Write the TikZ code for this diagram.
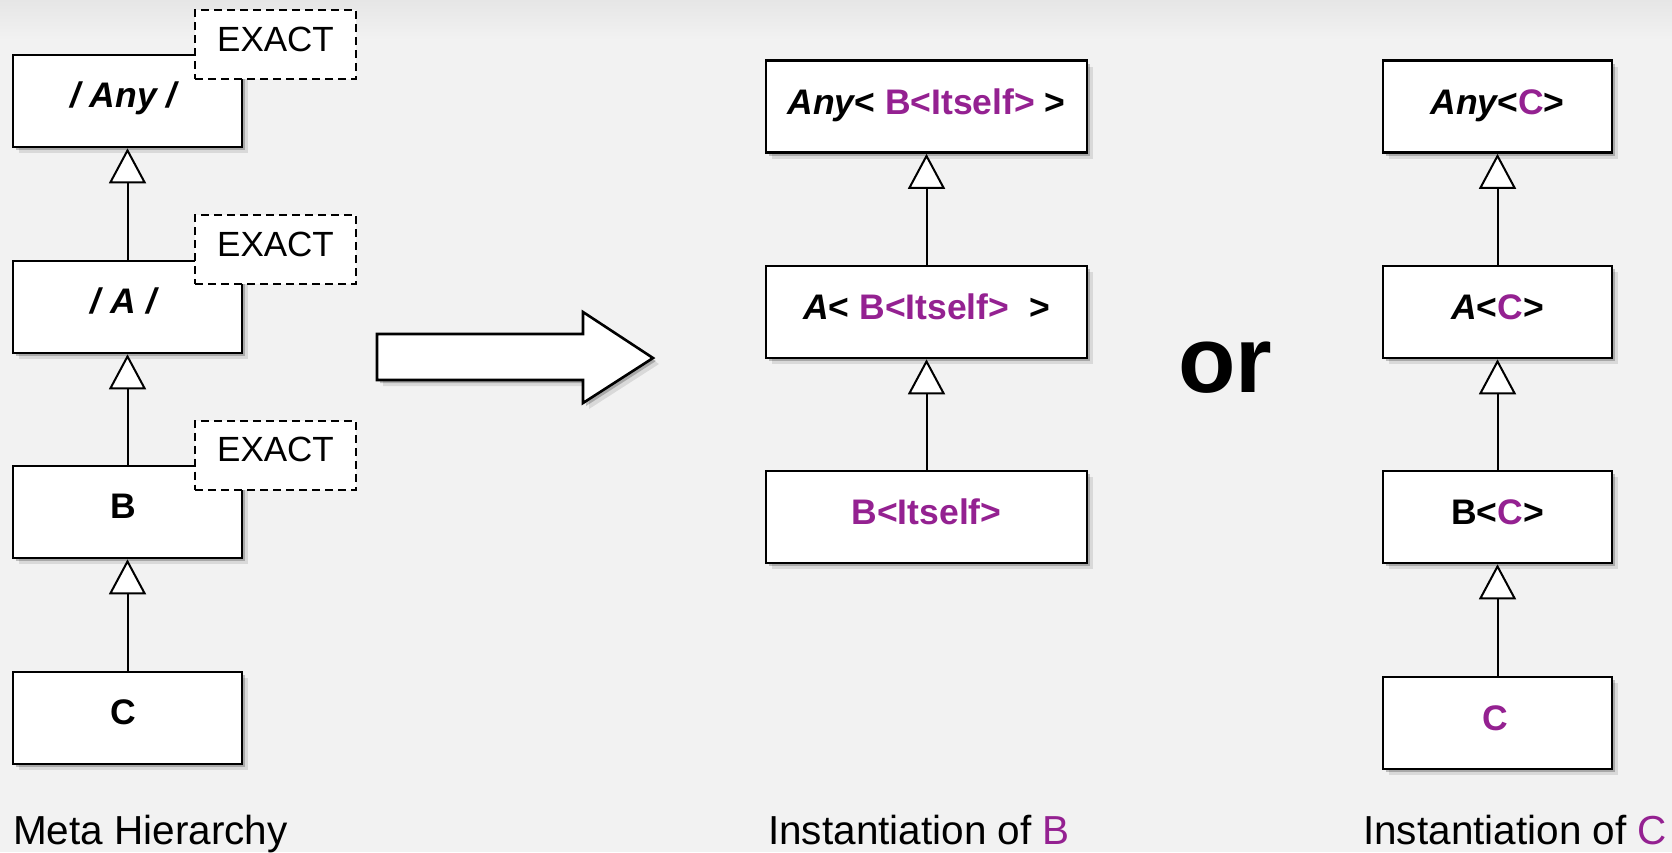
\documentclass[tikz,border=0pt]{standalone}
\usepackage{fontspec}
\setmainfont{Liberation Sans}
\usetikzlibrary{arrows.meta,shadows,calc}
\definecolor{bg}{HTML}{F2F2F2}
\definecolor{bgtop}{HTML}{E6E6E6}
\definecolor{purp}{RGB}{148,33,145}

\tikzset{
  soft shadow/.style={
    drop shadow={shadow xshift=3pt,shadow yshift=-3pt,opacity=.22,fill=black},
    drop shadow={shadow xshift=6pt,shadow yshift=-6pt,opacity=.10,fill=black}},
  classbox/.style={draw=black, fill=white, line width=2.6pt, minimum height=92pt,
    inner sep=0pt, soft shadow},
  narrow/.style={classbox, minimum width=229pt},
  wide/.style={classbox, minimum width=321pt},
  cname/.style={font=\fontsize{35.5}{40}\selectfont\bfseries, anchor=base, inner sep=0pt},
  exactbox/.style={draw=black, fill=white, dash pattern=on 8pt off 5pt, line width=2pt,
    minimum width=161pt, minimum height=69pt, inner sep=0pt},
  exacttext/.style={font=\fontsize{35}{40}\selectfont, anchor=base, inner sep=0pt},
  gen/.style={line width=2pt, -{Triangle[length=35pt,width=37pt,fill=white]}},
  caption/.style={font=\fontsize{40.5}{45}\selectfont, anchor=base west, inner sep=0pt},
}

\begin{document}
\begin{tikzpicture}[x=1pt,y=-1pt]
  % canvas
  \useasboundingbox (0,0) rectangle (1672,852);
  \fill[bg] (0,0) rectangle (1672,852);
  \shade[top color=bgtop, bottom color=bg] (0,0) rectangle (1672,40);

  % ---- meta hierarchy ----
  \node[narrow] (any) at (127.5,101) {};
  \node[narrow] (a)   at (127.5,307) {};
  \node[narrow] (b)   at (127.5,512) {};
  \node[narrow] (c)   at (127.5,718) {};
  \node[cname] (anyT) at ($(any.north)+(-4,54)$) {\itshape / Any /};
  \node[cname] (aT)   at ($(a.north)+(-4,54)$)   {\itshape / A /};
  \node[cname] (bT)   at ($(b.north)+(-4,54)$)   {B};
  \node[cname] (cT)   at ($(c.north)+(-4,54)$)   {C};

  \node[exactbox] (ex1) at (275.5,44.5) {};
  \node[exactbox] (ex2) at (275.5,249.5) {};
  \node[exactbox] (ex3) at (275.5,455) {};
  \node[exacttext] (ex1T) at ($(ex1.north)+(0,42)$) {EXACT};
  \node[exacttext] (ex2T) at ($(ex2.north)+(0,42)$) {EXACT};
  \node[exacttext] (ex3T) at ($(ex3.north)+(0,42)$) {EXACT};

  \draw[gen] (a.north) -- (any.south);
  \draw[gen] (b.north) -- (a.south);
  \draw[gen] (c.north) -- (b.south);

  % ---- transformation arrow ----
  \draw[line width=2.6pt, fill=white, line join=miter, soft shadow]
    (377,334) -- (583,334) -- (583,312) -- (653,358) -- (583,403)
    -- (583,380) -- (377,380) -- cycle;

  % ---- instantiation of B ----
  \node[wide] (mAny) at (926.5,106.5) {};
  \node[wide] (mA)   at (926.5,312) {};
  \node[wide] (mB)   at (926.5,517) {};
  \node[cname] (mAnyT) at ($(mAny.north)+(0,55)$)
    {{\itshape Any}<\ \textcolor{purp}{B<Itself>}\ >};
  \node[cname] (mAT) at ($(mA.north)+(0,55)$)
    {{\itshape A}<\ \textcolor{purp}{B<Itself>}\ \ >};
  \node[cname] (mBT) at ($(mB.north)+(0,55)$)
    {\textcolor{purp}{B<Itself>}};
  \draw[gen] (mA.north) -- (mAny.south);
  \draw[gen] (mB.north) -- (mA.south);

  \node[font=\fontsize{94}{100}\selectfont\bfseries, anchor=base, inner sep=0pt]
    (orT) at (1225.5,392) {or};

  % ---- instantiation of C ----
  \node[narrow] (rAny) at (1497.5,106.5) {};
  \node[narrow] (rA)   at (1497.5,312) {};
  \node[narrow] (rB)   at (1497.5,517) {};
  \node[narrow] (rC)   at (1497.5,723) {};
  \node[cname] (rAnyT) at ($(rAny.north)+(0,55)$) {{\itshape Any}<\textcolor{purp}{C}>};
  \node[cname] (rAT)   at ($(rA.north)+(0,55)$)   {{\itshape A}<\textcolor{purp}{C}>};
  \node[cname] (rBT)   at ($(rB.north)+(0,55)$)   {B<\textcolor{purp}{C}>};
  \node[cname] (rCT)   at ($(rC.north)+(-2,55)$)  {\textcolor{purp}{C}};
  \draw[gen] (rA.north) -- (rAny.south);
  \draw[gen] (rB.north) -- (rA.south);
  \draw[gen] (rC.north) -- (rB.south);

  % ---- captions ----
  \node[caption] (cap1) at (13,844)   {Meta Hierarchy};
  \node[caption] (cap2) at (768,844)  {Instantiation of \textcolor{purp}{B}};
  \node[caption] (cap3) at (1363,844) {Instantiation of \textcolor{purp}{C}};
\end{tikzpicture}
\end{document}
